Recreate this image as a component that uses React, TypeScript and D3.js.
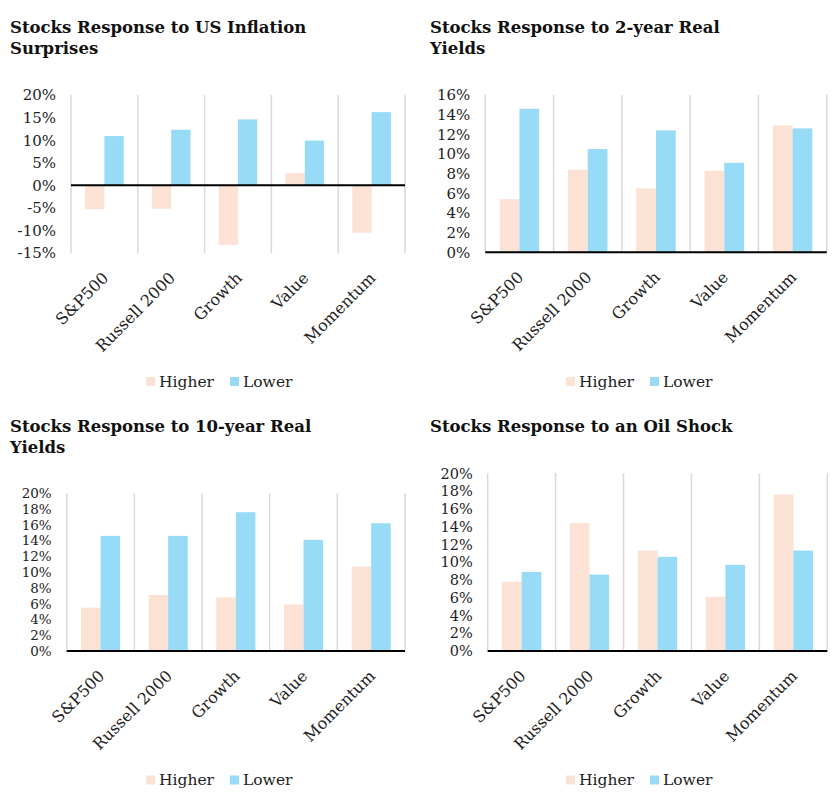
import React from 'react';
import * as d3 from 'd3';

// categories shared by all four panels
const categories = ['S&P500', 'Russell 2000', 'Growth', 'Value', 'Momentum'];
const seriesNames = ['Higher', 'Lower'];

// US inflation surprises (%)
const inflationHigher = [-5.3, -5.2, -13.2, 2.7, -10.5];
const inflationLower = [10.9, 12.3, 14.6, 9.9, 16.2];
const inflationTicks = [-15, -10, -5, 0, 5, 10, 15, 20];

// 2-year real yields (%)
const real2yHigher = [5.4, 8.4, 6.5, 8.3, 12.9];
const real2yLower = [14.6, 10.5, 12.4, 9.1, 12.6];
const real2yTicks = [0, 2, 4, 6, 8, 10, 12, 14, 16];

// 10-year real yields (%)
const real10yHigher = [5.5, 7.1, 6.8, 5.9, 10.7];
const real10yLower = [14.6, 14.6, 17.6, 14.1, 16.2];
const real10yTicks = [0, 2, 4, 6, 8, 10, 12, 14, 16, 18, 20];

// oil shock (%)
const oilHigher = [7.8, 14.4, 11.3, 6.1, 17.6];
const oilLower = [8.9, 8.6, 10.6, 9.7, 11.3];
const oilTicks = [0, 2, 4, 6, 8, 10, 12, 14, 16, 18, 20];

const COLORS: Record<string, string> = { Higher: '#FBE2D5', Lower: '#97DBF6' };
const FONT = "'DejaVu Serif', 'Liberation Serif', serif";

type PanelProps = {
  ox: number;
  oy: number;
  title: string[];
  titleY: number;
  higher: number[];
  lower: number[];
  ticks: number[];
  tickSize: number;
  plot: { l: number; r: number; t: number; b: number };
  legendY: number;
};

function Panel({ ox, oy, title, titleY, higher, lower, ticks, tickSize, plot, legendY }: PanelProps) {
  const x0 = d3.scaleBand<string>().domain(categories).range([plot.l, plot.r]).padding(0);
  const x1 = d3
    .scaleBand<string>()
    .domain(seriesNames)
    .range([0, x0.bandwidth()])
    .paddingInner(0)
    .paddingOuter(0.73);
  const y = d3
    .scaleLinear()
    .domain([ticks[0], ticks[ticks.length - 1]])
    .range([plot.b, plot.t]);

  const rows = categories.map((c, i) => ({ c, Higher: higher[i], Lower: lower[i] }));
  const grid = categories.map((c) => x0(c) as number).concat([plot.r]);

  return (
    <g transform={`translate(${ox},${oy})`}>
      {title.map((t, i) => (
        <text key={t} x={10} y={titleY + i * 20.5} fontFamily={FONT} fontWeight="bold" fontSize={16.5} fill="#111">
          {t}
        </text>
      ))}
      {grid.map((gx, i) => (
        <line key={i} x1={gx} x2={gx} y1={plot.t} y2={plot.b} stroke="#D9D9D9" strokeWidth={1.5} />
      ))}
      {rows.map((d) =>
        seriesNames.map((s) => {
          const v = (d as any)[s] as number;
          return (
            <rect
              key={d.c + s}
              x={(x0(d.c) as number) + (x1(s) as number)}
              y={Math.min(y(v), y(0))}
              width={x1.bandwidth()}
              height={Math.abs(y(v) - y(0))}
              fill={COLORS[s]}
            />
          );
        })
      )}
      <line x1={plot.l} x2={plot.r} y1={y(0)} y2={y(0)} stroke="#000" strokeWidth={2} />
      {ticks.map((t) => (
        <text
          key={t}
          x={plot.l - 15}
          y={y(t)}
          dy="0.36em"
          textAnchor="end"
          fontFamily={FONT}
          fontSize={tickSize}
          fill="#222"
        >
          {t + '%'}
        </text>
      ))}
      {categories.map((c) => {
        const cx = (x0(c) as number) + x0.bandwidth() / 2;
        return (
          <text
            key={c}
            transform={`translate(${cx + 1},${plot.b + 22}) rotate(-45)`}
            dy="0.35em"
            textAnchor="end"
            fontFamily={FONT}
            fontSize={16}
            fill="#222"
          >
            {c}
          </text>
        );
      })}
      {seriesNames.map((s, i) => (
        <g key={s} transform={`translate(${146 + i * 84},${legendY})`}>
          <rect x={0} y={-4.5} width={9} height={9} fill={COLORS[s]} />
          <text x={13} y={0} dy="0.35em" fontFamily={FONT} fontSize={15.5} fill="#222">
            {s}
          </text>
        </g>
      ))}
    </g>
  );
}

export default function App() {
  return (
    <svg width={839} height={804} style={{ position: 'absolute', left: 0, top: 0, background: '#fff' }}>
      <Panel
        ox={0}
        oy={0}
        title={['Stocks Response to US Inflation', 'Surprises']}
        titleY={33}
        higher={inflationHigher}
        lower={inflationLower}
        ticks={inflationTicks}
        tickSize={15}
        plot={{ l: 71, r: 405, t: 95, b: 253 }}
        legendY={381.5}
      />
      <Panel
        ox={420}
        oy={0}
        title={['Stocks Response to 2-year Real', 'Yields']}
        titleY={33}
        higher={real2yHigher}
        lower={real2yLower}
        ticks={real2yTicks}
        tickSize={15}
        plot={{ l: 65.3, r: 406.7, t: 95, b: 252.3 }}
        legendY={381.5}
      />
      <Panel
        ox={0}
        oy={400}
        title={['Stocks Response to 10-year Real', 'Yields']}
        titleY={32.3}
        higher={real10yHigher}
        lower={real10yLower}
        ticks={real10yTicks}
        tickSize={13.5}
        plot={{ l: 66.7, r: 405, t: 93.3, b: 251 }}
        legendY={380}
      />
      <Panel
        ox={420}
        oy={400}
        title={['Stocks Response to an Oil Shock']}
        titleY={32}
        higher={oilHigher}
        lower={oilLower}
        ticks={oilTicks}
        tickSize={14.5}
        plot={{ l: 67.7, r: 407.3, t: 73.3, b: 251 }}
        legendY={380}
      />
    </svg>
  );
}
